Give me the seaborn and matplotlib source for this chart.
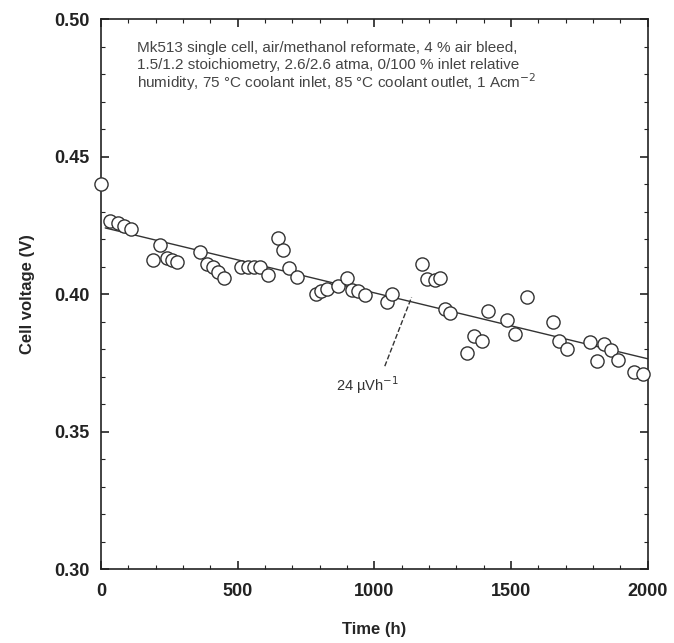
import numpy as np
import pandas as pd
import seaborn as sns
import matplotlib.pyplot as plt
from matplotlib.ticker import MultipleLocator, FormatStrFormatter

time_h = [0, 33, 62, 84, 110, 190, 216, 241, 260, 278, 362, 388, 410, 428, 450,
          512, 537, 560, 581, 611, 647, 665, 687, 717, 786, 804, 826, 867, 899,
          918, 940, 965, 1046, 1064, 1174, 1192, 1221, 1240, 1258, 1276, 1338,
          1364, 1393, 1415, 1485, 1514, 1558, 1653, 1675, 1704, 1788, 1814,
          1839, 1865, 1890, 1949, 1982]
voltage = [0.440, 0.4265, 0.4258, 0.4247, 0.4236, 0.4124, 0.418, 0.413, 0.4124,
           0.4116, 0.4153, 0.411, 0.410, 0.408, 0.406, 0.410, 0.410, 0.410,
           0.410, 0.407, 0.4204, 0.416, 0.4095, 0.4062, 0.400, 0.401, 0.402,
           0.403, 0.406, 0.4015, 0.401, 0.3996, 0.397, 0.400, 0.411, 0.4055,
           0.405, 0.406, 0.3945, 0.393, 0.3785, 0.3847, 0.383, 0.394, 0.3905,
           0.3855, 0.399, 0.390, 0.383, 0.380, 0.3825, 0.3756, 0.382, 0.3796,
           0.376, 0.3716, 0.371]

# Linear degradation fit (24 uV/h)
fit_time = [15, 2000]
fit_voltage = [0.4241, 0.3765]

# Test conditions caption, one entry per line
caption = ["Mk513 single cell, air/methanol reformate, 4 % air bleed,",
           "1.5/1.2 stoichiometry, 2.6/2.6 atma, 0/100 % inlet relative",
           "humidity, 75 \u00b0C coolant inlet, 85 \u00b0C coolant outlet, 1 Acm$^{-2}$"]

df = pd.DataFrame({"time": time_h, "voltage": voltage})
fit_df = pd.DataFrame({"time": fit_time, "voltage": fit_voltage})

sns.set_style("ticks")
plt.rcParams["font.family"] = ["Liberation Sans", "DejaVu Sans"]

fig = plt.figure(figsize=(6.74, 6.43), dpi=100)
ax = fig.add_axes([0.150, 0.115, 0.811, 0.855])

sns.lineplot(data=fit_df, x="time", y="voltage", ax=ax, color="#333333",
             linewidth=1.0, zorder=2)
sns.scatterplot(data=df, x="time", y="voltage", ax=ax, marker="o", s=90,
                facecolor="white", edgecolor="#333333", linewidth=1.0,
                zorder=3, clip_on=False)

ax.set_xlim(0, 2000)
ax.set_ylim(0.30, 0.50)
ax.xaxis.set_major_locator(MultipleLocator(500))
ax.xaxis.set_minor_locator(MultipleLocator(100))
ax.yaxis.set_major_locator(MultipleLocator(0.05))
ax.yaxis.set_minor_locator(MultipleLocator(0.01))
ax.yaxis.set_major_formatter(FormatStrFormatter("%.2f"))
ax.xaxis.set_major_formatter(FormatStrFormatter("%d"))
ax.tick_params(which="both", direction="in", top=True, right=True,
               colors="#222222")
ax.tick_params(which="major", length=6, width=1.2, labelsize=13)
ax.tick_params(axis="y", which="major", pad=8)
ax.tick_params(axis="x", which="major", pad=10)
ax.tick_params(which="minor", length=3, width=0.8)
for lab in ax.get_xticklabels() + ax.get_yticklabels():
    lab.set_fontweight("bold")
for s in ax.spines.values():
    s.set_linewidth(1.2)
    s.set_color("#222222")

ax.set_xlabel("Time (h)", fontsize=12, fontweight="bold", labelpad=16)
ax.set_ylabel("Cell voltage (V)", fontsize=12, fontweight="bold", labelpad=14)

for i, line in enumerate(caption):
    ax.text(0.066, 0.947 - i * 0.031, line, transform=ax.transAxes,
            ha="left", va="center", fontsize=11, color="#444444")

# leader line from the fit to its label
ax.plot([1038, 1136], [0.3738, 0.3989], color="#333333", linestyle="--",
        linewidth=1.0)
ax.text(973, 0.3668, "24 \u00b5Vh$^{-1}$", ha="center", va="center",
        fontsize=10.5, color="#333333")

fig.savefig("out.png", dpi=100)
